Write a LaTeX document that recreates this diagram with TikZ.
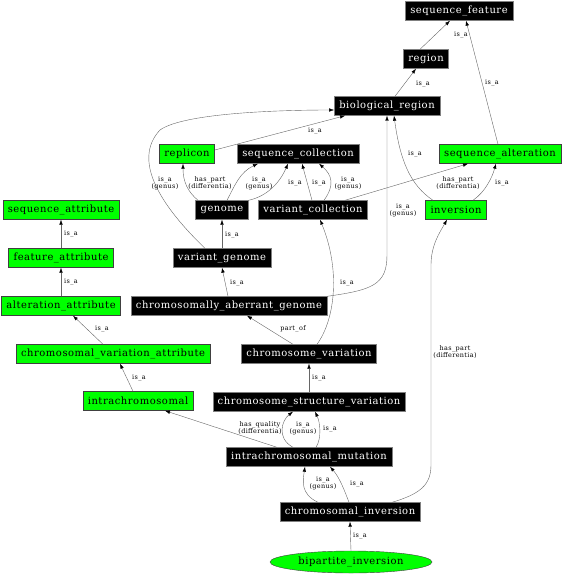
\documentclass[tikz,border=0pt]{standalone}
\usepackage{fontspec}
\setmainfont{DejaVu Serif}[LetterSpace=5.5]
\usetikzlibrary{arrows.meta,shapes.geometric}
\definecolor{termgreen}{RGB}{0,255,0}
\begin{document}
\begin{tikzpicture}[x=1bp, y=-1bp,
    blk/.style={draw=gray, fill=black, text=white, minimum height=19bp, inner xsep=5bp, inner ysep=0bp, font=\fontsize{10}{11}\selectfont},
    grn/.style={blk, draw=black!75, fill=termgreen, text=black},
    lbl/.style={align=center, inner sep=0bp, font=\fontsize{6.5}{6.8}\selectfont},
    edge/.style={draw=gray!80!black, -{Latex[length=5bp, width=3.5bp, color=black]}}]
  \useasboundingbox (0,0) rectangle (564,576);

  \node[blk] (sf) at (459,11) {sequence\_feature};
  \node[blk] (rg) at (426,59) {region};
  \node[blk] (br) at (387,106) {biological\_region};
  \node[grn] (rep) at (187,154) {replicon};
  \node[blk] (sc) at (298,154) {sequence\_collection};
  \node[grn] (salt) at (500,154) {sequence\_alteration};
  \node[blk] (gen) at (222,210) {genome};
  \node[blk] (vc) at (313,210) {variant\_collection};
  \node[grn] (inv) at (456,210) {inversion};
  \node[grn] (sattr) at (61,210) {sequence\_attribute};
  \node[grn] (fattr) at (61,258) {feature\_attribute};
  \node[grn] (aattr) at (61,306) {alteration\_attribute};
  \node[blk] (vg) at (222,258) {variant\_genome};
  \node[blk] (cag) at (229,306) {chromosomally\_aberrant\_genome};
  \node[grn] (cvattr) at (113,354) {chromosomal\_variation\_attribute};
  \node[blk] (cv) at (309,354) {chromosome\_variation};
  \node[grn] (intra) at (138,401) {intrachromosomal};
  \node[blk] (csv) at (309,402) {chromosome\_structure\_variation};
  \node[blk] (im) at (309,457) {intrachromosomal\_mutation};
  \node[blk] (ci) at (350,512) {chromosomal\_inversion};
  \node[grn, ellipse, draw=black!75, minimum width=162bp, minimum height=22bp, inner sep=0bp] (bi) at (351,562) {bipartite\_inversion};

  \draw[edge] ([xshift=-6bp]rg.north) -- ([xshift=-9bp]sf.south);
  \node[lbl] (l1) at (461,35) {is\_a};
  \draw[edge] ([xshift=8bp]br.north) -- ([xshift=-10bp]rg.south);
  \node[lbl] (l2) at (423,84) {is\_a};
  \draw[edge] ([xshift=-2bp]salt.north) -- ([xshift=7bp]sf.south);
  \node[lbl] (l3) at (492,83) {is\_a};
  \draw[edge] ([yshift=4bp]rep.east) -- ([xshift=-42bp]br.south);
  \node[lbl] (l4) at (315,131) {is\_a};
  \draw[edge] ([xshift=-17bp]vg.north) .. controls (160,205) and (132,160) .. (160,130)
    .. controls (185,112) and (290,110) .. ([yshift=-4bp]br.west);
  \node[lbl] (l5) at (165,183) {is\_a\\(genus)};
  \draw[edge] ([xshift=-24bp]gen.north) .. controls (188,192) and (183,182) .. ([xshift=-4bp]rep.south);
  \node[lbl] (l6) at (210,183) {has\_part\\(differentia)};
  \draw[edge] ([xshift=5bp]gen.north) .. controls (235,185) and (240,172) .. ([xshift=-40bp]sc.south);
  \node[lbl] (l7) at (259,183) {is\_a\\(genus)};
  \draw[edge] (gen.north east) .. controls (268,196) and (280,182) .. ([xshift=-10bp]sc.south);
  \node[lbl] (l8) at (295,183) {is\_a};
  \draw[edge] ([xshift=-1bp]vc.north) -- ([xshift=4bp]sc.south);
  \node[lbl] (l9) at (319,183) {is\_a};
  \draw[edge] ([xshift=11bp]vc.north) .. controls (335,185) and (332,175) .. ([xshift=21bp]sc.south);
  \node[lbl] (l10) at (348,183) {is\_a\\(genus)};
  \draw[edge] ([xshift=32bp]vc.north) -- ([xshift=-32bp]salt.south);
  \node[lbl] (l11) at (458,183) {has\_part\\(differentia)};
  \draw[edge] ([xshift=-23bp]inv.north) .. controls (410,185) and (400,160) .. ([xshift=7bp]br.south);
  \node[lbl] (l12) at (415,154) {is\_a};
  \draw[edge] ([xshift=17bp]inv.north) .. controls (485,192) and (492,178) .. ([xshift=-4bp]salt.south);
  \node[lbl] (l13) at (502,183) {is\_a};
  \draw[edge] (cag.north east) .. controls (372,290) and (387,285) .. (387,255) -- (br.south);
  \node[lbl] (l14) at (403,210) {is\_a\\(genus)};
  \draw[edge] (vg.north) -- (gen.south);
  \node[lbl] (l15) at (232,235) {is\_a};
  \draw[edge] (fattr.north) -- (sattr.south);
  \node[lbl] (l16) at (71,234) {is\_a};
  \draw[edge] (aattr.north) -- (fattr.south);
  \node[lbl] (l17) at (71,282) {is\_a};
  \draw[edge] ([xshift=-1bp]cag.north) -- (vg.south);
  \node[lbl] (l18) at (237,283) {is\_a};
  \draw[edge] ([xshift=-10bp]cvattr.north) -- ([xshift=12bp]aattr.south);
  \node[lbl] (l19) at (102,329) {is\_a};
  \draw[edge] ([xshift=-5bp]intra.north) -- ([xshift=7bp]cvattr.south);
  \node[lbl] (l20) at (139,378) {is\_a};
  \draw[edge] ([xshift=-16bp]cv.north) -- ([xshift=18bp]cag.south);
  \node[lbl] (l21) at (293,329) {part\_of};
  \draw[edge] ([xshift=8bp]cv.north) .. controls (336,318) and (340,268) .. ([xshift=7bp]vc.south);
  \node[lbl] (l22) at (347,283) {is\_a};
  \draw[edge] (csv.north) -- (cv.south);
  \node[lbl] (l23) at (319,378) {is\_a};
  \draw[edge] ([xshift=-32bp]im.north) -- ([xshift=27bp]intra.south);
  \node[lbl] (l24) at (260,428) {has\_quality\\(differentia)};
  \draw[edge] ([xshift=-16bp]im.north) .. controls (276,438) and (282,420) .. ([xshift=-16bp]csv.south);
  \node[lbl] (l25) at (303,428) {is\_a\\(genus)};
  \draw[edge] ([xshift=7bp]im.north) .. controls (322,438) and (320,422) .. ([xshift=6bp]csv.south);
  \node[lbl] (l26) at (330,429) {is\_a};
  \draw[edge] ([xshift=-32bp]ci.north) .. controls (300,494) and (303,480) .. ([xshift=-4bp]im.south);
  \node[lbl] (l27) at (323,483) {is\_a\\(genus)};
  \draw[edge] ([xshift=-1bp]ci.north) .. controls (345,492) and (340,478) .. ([xshift=21bp]im.south);
  \node[lbl] (l28) at (357,484) {is\_a};
  \draw[edge] (bi.north) -- (ci.south);
  \node[lbl] (l29) at (360,536) {is\_a};
  \draw[edge] ([xshift=42bp]ci.north) .. controls (420,494) and (431,485) .. (431,465) -- (431,265)
    .. controls (431,245) and (440,232) .. ([xshift=-9bp]inv.south);
  \node[lbl] (l30) at (455,352) {has\_part\\(differentia)};
\end{tikzpicture}
\end{document}
